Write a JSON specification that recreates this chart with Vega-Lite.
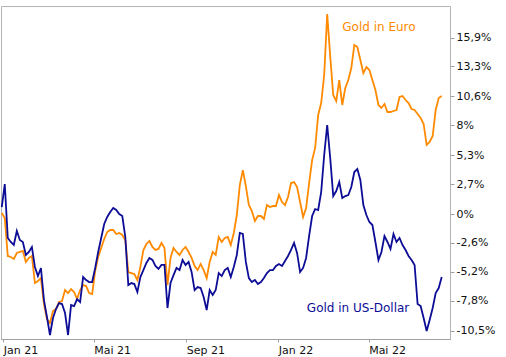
{
  "$schema": "https://vega.github.io/schema/vega-lite/v6.json",
  "width": 449,
  "height": 333,
  "autosize": "none",
  "padding": {"left": 1, "top": 6, "right": 56, "bottom": 18},
  "background": "white",
  "config": {
    "view": {"stroke": "#b4b4b4", "strokeWidth": 1},
    "font": "DejaVu Sans",
    "axis": {"labelOverlap": false, "labelFont": "DejaVu Sans", "labelFontSize": 11, "labelColor": "#111111", "tickColor": "#a0a0a0", "domainColor": "#a0a0a0", "grid": false}
  },
  "layer": [
    {
      "data": {
        "values": [
          {"d":"2020-12-30","usd":0.63,"eur":0.09},
          {"d":"2021-01-03","usd":2.7,"eur":-0.36},
          {"d":"2021-01-07","usd":-2.16,"eur":-3.78},
          {"d":"2021-01-11","usd":-2.52,"eur":-3.87},
          {"d":"2021-01-15","usd":-2.79,"eur":-4.05},
          {"d":"2021-01-19","usd":-1.53,"eur":-3.51},
          {"d":"2021-01-23","usd":-2.34,"eur":-3.42},
          {"d":"2021-01-27","usd":-2.52,"eur":-3.33},
          {"d":"2021-01-31","usd":-3.69,"eur":-4.32},
          {"d":"2021-02-04","usd":-3.42,"eur":-3.96},
          {"d":"2021-02-08","usd":-2.97,"eur":-3.78},
          {"d":"2021-02-12","usd":-4.77,"eur":-6.22},
          {"d":"2021-02-16","usd":-5.59,"eur":-6.04},
          {"d":"2021-02-20","usd":-4.86,"eur":-5.77},
          {"d":"2021-02-24","usd":-7.75,"eur":-8.11},
          {"d":"2021-02-28","usd":-9.28,"eur":-9.46},
          {"d":"2021-03-04","usd":-10.9,"eur":-9.82},
          {"d":"2021-03-08","usd":-9.37,"eur":-8.74},
          {"d":"2021-03-12","usd":-8.56,"eur":-8.56},
          {"d":"2021-03-16","usd":-8.02,"eur":-7.93},
          {"d":"2021-03-20","usd":-8.11,"eur":-7.84},
          {"d":"2021-03-24","usd":-8.92,"eur":-6.85},
          {"d":"2021-03-28","usd":-10.9,"eur":-7.12},
          {"d":"2021-04-01","usd":-8.2,"eur":-6.76},
          {"d":"2021-04-05","usd":-8.29,"eur":-7.03},
          {"d":"2021-04-09","usd":-7.66,"eur":-7.66},
          {"d":"2021-04-13","usd":-7.93,"eur":-6.85},
          {"d":"2021-04-17","usd":-5.68,"eur":-6.4},
          {"d":"2021-04-21","usd":-5.95,"eur":-6.49},
          {"d":"2021-04-25","usd":-6.13,"eur":-7.12},
          {"d":"2021-04-29","usd":-6.13,"eur":-7.21},
          {"d":"2021-05-03","usd":-4.86,"eur":-5.14},
          {"d":"2021-05-07","usd":-3.42,"eur":-3.87},
          {"d":"2021-05-11","usd":-2.16,"eur":-3.06},
          {"d":"2021-05-15","usd":-0.9,"eur":-2.25},
          {"d":"2021-05-19","usd":-0.27,"eur":-1.62},
          {"d":"2021-05-23","usd":0.18,"eur":-1.44},
          {"d":"2021-05-27","usd":0.54,"eur":-1.44},
          {"d":"2021-05-31","usd":0.36,"eur":-1.8},
          {"d":"2021-06-04","usd":0,"eur":-1.71},
          {"d":"2021-06-08","usd":-0.18,"eur":-1.89},
          {"d":"2021-06-12","usd":-2.07,"eur":-2.34},
          {"d":"2021-06-16","usd":-6.4,"eur":-5.23},
          {"d":"2021-06-20","usd":-6.22,"eur":-5.32},
          {"d":"2021-06-24","usd":-6.31,"eur":-5.41},
          {"d":"2021-06-28","usd":-7.03,"eur":-5.95},
          {"d":"2021-07-02","usd":-5.68,"eur":-4.77},
          {"d":"2021-07-06","usd":-5.05,"eur":-3.24},
          {"d":"2021-07-10","usd":-4.41,"eur":-2.7},
          {"d":"2021-07-14","usd":-3.96,"eur":-2.43},
          {"d":"2021-07-18","usd":-4.14,"eur":-2.97},
          {"d":"2021-07-22","usd":-4.68,"eur":-3.24},
          {"d":"2021-07-26","usd":-4.95,"eur":-3.15},
          {"d":"2021-07-30","usd":-4.59,"eur":-2.61},
          {"d":"2021-08-03","usd":-4.59,"eur":-3.06},
          {"d":"2021-08-07","usd":-8.47,"eur":-6.4},
          {"d":"2021-08-11","usd":-6.22,"eur":-3.96},
          {"d":"2021-08-15","usd":-5.5,"eur":-3.06},
          {"d":"2021-08-19","usd":-4.86,"eur":-3.42},
          {"d":"2021-08-23","usd":-5.05,"eur":-3.69},
          {"d":"2021-08-27","usd":-4.14,"eur":-3.24},
          {"d":"2021-08-31","usd":-4.59,"eur":-2.97},
          {"d":"2021-09-04","usd":-4.32,"eur":-3.42},
          {"d":"2021-09-08","usd":-5.23,"eur":-3.96},
          {"d":"2021-09-12","usd":-6.85,"eur":-4.68},
          {"d":"2021-09-16","usd":-6.58,"eur":-5.05},
          {"d":"2021-09-20","usd":-6.67,"eur":-4.5},
          {"d":"2021-09-24","usd":-7.48,"eur":-5.05},
          {"d":"2021-09-28","usd":-8.65,"eur":-5.77},
          {"d":"2021-10-02","usd":-6.85,"eur":-4.32},
          {"d":"2021-10-06","usd":-7.3,"eur":-3.42},
          {"d":"2021-10-10","usd":-6.85,"eur":-3.69},
          {"d":"2021-10-14","usd":-5.32,"eur":-2.07},
          {"d":"2021-10-18","usd":-5.59,"eur":-2.52},
          {"d":"2021-10-22","usd":-5.05,"eur":-2.16},
          {"d":"2021-10-26","usd":-4.86,"eur":-2.07},
          {"d":"2021-10-30","usd":-5.68,"eur":-2.79},
          {"d":"2021-11-03","usd":-4.77,"eur":-1.71},
          {"d":"2021-11-07","usd":-3.69,"eur":-0.09},
          {"d":"2021-11-11","usd":-1.71,"eur":2.61},
          {"d":"2021-11-15","usd":-1.8,"eur":3.96},
          {"d":"2021-11-19","usd":-4.32,"eur":2.52},
          {"d":"2021-11-23","usd":-5.77,"eur":0.81},
          {"d":"2021-11-27","usd":-6.13,"eur":0.27},
          {"d":"2021-12-01","usd":-5.95,"eur":-0.63},
          {"d":"2021-12-05","usd":-6.31,"eur":-0.18},
          {"d":"2021-12-09","usd":-6.13,"eur":-0.18},
          {"d":"2021-12-13","usd":-5.77,"eur":-0.45},
          {"d":"2021-12-17","usd":-5.32,"eur":0.81},
          {"d":"2021-12-21","usd":-5.05,"eur":0.63},
          {"d":"2021-12-25","usd":-5.05,"eur":0.72},
          {"d":"2021-12-29","usd":-4.68,"eur":0.72},
          {"d":"2022-01-02","usd":-4.5,"eur":1.71},
          {"d":"2022-01-06","usd":-4.68,"eur":1.08},
          {"d":"2022-01-10","usd":-4.23,"eur":0.81},
          {"d":"2022-01-14","usd":-3.78,"eur":1.53},
          {"d":"2022-01-18","usd":-3.24,"eur":2.79},
          {"d":"2022-01-22","usd":-2.61,"eur":2.88},
          {"d":"2022-01-26","usd":-3.51,"eur":2.43},
          {"d":"2022-01-30","usd":-5.23,"eur":1.08},
          {"d":"2022-02-03","usd":-4.86,"eur":-0.27},
          {"d":"2022-02-07","usd":-3.96,"eur":0.54},
          {"d":"2022-02-11","usd":-1.98,"eur":2.79},
          {"d":"2022-02-15","usd":-0.18,"eur":4.86},
          {"d":"2022-02-19","usd":0.45,"eur":5.95},
          {"d":"2022-02-23","usd":0.36,"eur":8.92},
          {"d":"2022-02-27","usd":1.98,"eur":10.0},
          {"d":"2022-03-03","usd":5.32,"eur":12.52},
          {"d":"2022-03-07","usd":8.02,"eur":18.02},
          {"d":"2022-03-11","usd":5.05,"eur":14.23},
          {"d":"2022-03-15","usd":1.62,"eur":10.72},
          {"d":"2022-03-19","usd":2.07,"eur":10.18},
          {"d":"2022-03-23","usd":2.88,"eur":12.07},
          {"d":"2022-03-27","usd":1.44,"eur":9.82},
          {"d":"2022-03-31","usd":1.62,"eur":11.35},
          {"d":"2022-04-04","usd":1.71,"eur":12.07},
          {"d":"2022-04-08","usd":2.43,"eur":13.15},
          {"d":"2022-04-12","usd":3.78,"eur":15.23},
          {"d":"2022-04-16","usd":4.05,"eur":15.05},
          {"d":"2022-04-20","usd":3.06,"eur":13.87},
          {"d":"2022-04-24","usd":0.81,"eur":12.7},
          {"d":"2022-04-28","usd":-0.09,"eur":13.24},
          {"d":"2022-05-02","usd":-0.72,"eur":12.97},
          {"d":"2022-05-06","usd":-0.99,"eur":12.07},
          {"d":"2022-05-10","usd":-2.52,"eur":11.17},
          {"d":"2022-05-14","usd":-4.14,"eur":9.82},
          {"d":"2022-05-18","usd":-3.42,"eur":9.55},
          {"d":"2022-05-22","usd":-1.98,"eur":9.91},
          {"d":"2022-05-26","usd":-2.52,"eur":9.19},
          {"d":"2022-05-30","usd":-3.15,"eur":9.19},
          {"d":"2022-06-03","usd":-1.8,"eur":9.28},
          {"d":"2022-06-07","usd":-2.52,"eur":9.37},
          {"d":"2022-06-11","usd":-2.16,"eur":10.54},
          {"d":"2022-06-15","usd":-2.79,"eur":10.63},
          {"d":"2022-06-19","usd":-3.24,"eur":10.27},
          {"d":"2022-06-23","usd":-3.78,"eur":10.0},
          {"d":"2022-06-27","usd":-4.14,"eur":9.46},
          {"d":"2022-07-01","usd":-4.59,"eur":9.37},
          {"d":"2022-07-05","usd":-8.11,"eur":9.01},
          {"d":"2022-07-09","usd":-8.29,"eur":8.65},
          {"d":"2022-07-13","usd":-9.37,"eur":8.11},
          {"d":"2022-07-17","usd":-10.54,"eur":6.22},
          {"d":"2022-07-21","usd":-9.55,"eur":6.49},
          {"d":"2022-07-25","usd":-8.47,"eur":7.03},
          {"d":"2022-07-29","usd":-7.12,"eur":9.37},
          {"d":"2022-08-02","usd":-6.67,"eur":10.45},
          {"d":"2022-08-06","usd":-5.68,"eur":10.63}
        ]
      },
      "transform": [{"fold": ["eur", "usd"], "as": ["series", "value"]}],
      "mark": {"type": "line", "strokeWidth": 1.8, "interpolate": "linear"},
      "encoding": {
        "x": {
          "field": "d",
          "type": "temporal",
          "scale": {
            "type": "utc",
            "domain": [
              {"year": 2020, "month": 12, "date": 29, "utc": true},
              {"year": 2022, "month": 8, "date": 17, "utc": true}
            ]
          },
          "axis": {
            "title": null,
            "values": [
              {"year": 2021, "month": 1, "date": 1, "utc": true},
              {"year": 2021, "month": 5, "date": 1, "utc": true},
              {"year": 2021, "month": 9, "date": 1, "utc": true},
              {"year": 2022, "month": 1, "date": 1, "utc": true},
              {"year": 2022, "month": 5, "date": 1, "utc": true}
            ],
            "tickCount": 20,
            "labelExpr": "(utcmonth(datum.value)==0?'Jan':utcmonth(datum.value)==4?'Mai':'Sep') + ' ' + utcFormat(datum.value,'%y')",
            "labelAlign": "left",
            "labelPadding": 2,
            "labelOverlap": false,
            "tickSize": 3
          }
        },
        "y": {
          "field": "value",
          "type": "quantitative",
          "scale": {"domain": [-11.26, 18.74], "nice": false, "zero": false},
          "axis": {
            "title": null,
            "orient": "right",
            "values": [15.9, 13.3, 10.6, 8, 5.3, 2.7, 0, -2.6, -5.2, -7.8, -10.5],
            "tickCount": 30,
            "labelExpr": "replace(datum.value + '', '.', ',') + '%'",
            "labelPadding": 2,
            "labelOverlap": false,
            "labelBound": false,
            "tickSize": 4,
            "domain": false
          }
        },
        "color": {
          "field": "series",
          "type": "nominal",
          "scale": {"domain": ["eur", "usd"], "range": ["#ff8a00", "#0c0c96"]},
          "legend": null
        }
      }
    },
    {
      "data": {
        "values": [
          {"d": "2022-03-27", "value": 16.85, "label": "Gold in Euro", "series": "eur"},
          {"d": "2022-02-08", "value": -8.47, "label": "Gold in US-Dollar", "series": "usd"}
        ]
      },
      "mark": {"type": "text", "align": "left", "baseline": "middle", "font": "DejaVu Sans", "fontSize": 12},
      "encoding": {
        "x": {"field": "d", "type": "temporal"},
        "y": {"field": "value", "type": "quantitative"},
        "text": {"field": "label"},
        "color": {"field": "series", "type": "nominal", "legend": null}
      }
    }
  ]
}
